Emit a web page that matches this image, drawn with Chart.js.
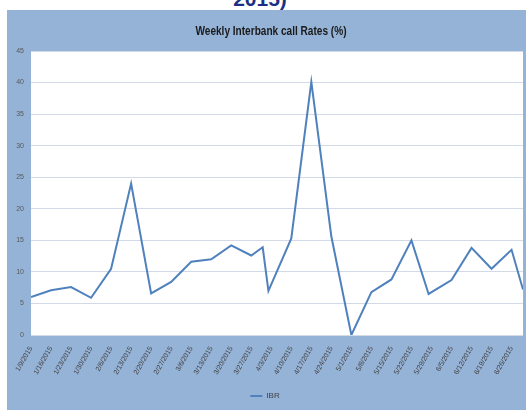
<!DOCTYPE html>
<html>
<head>
<meta charset="utf-8">
<script src="https://cdn.jsdelivr.net/npm/chart.js@4"></script>
<style>
  html, body { margin: 0; padding: 0; background: #ffffff; width: 526px; height: 410px; overflow: hidden; }
  #heading { position: absolute; left: 0; top: -12px; width: 526px; text-align: center; font: bold 21px "Liberation Sans", Arial, sans-serif; line-height: 21px; color: #1b2f86; }
  #frame { position: absolute; left: 7px; top: 10px; width: 519px; height: 400px; background: #95b3d7; }
  #c { position: absolute; left: 0; top: 0; }
  #title { position: absolute; left: 0; top: 24px; width: 526px; text-align: center; font: bold 12px "Liberation Sans", Arial, sans-serif; line-height: 14px; color: #1a1a1a; transform: translateX(8px) scaleX(0.84); transform-origin: 263px 0; white-space: nowrap; }
</style>
</head>
<body>
<div id="heading"><span style="position:relative;left:-3px">2015)</span></div>
<div id="frame"><canvas id="c" width="519" height="400"></canvas></div>
<div id="title"></div>
<script>
// ---- data ----
const dates = ['2015-01-09','2015-01-16','2015-01-23','2015-01-30','2015-02-06','2015-02-13','2015-02-20','2015-02-27',
  '2015-03-06','2015-03-13','2015-03-20','2015-03-27','2015-03-31','2015-04-02','2015-04-10','2015-04-17','2015-04-24',
  '2015-05-01','2015-05-08','2015-05-15','2015-05-22','2015-05-28','2015-06-05','2015-06-12','2015-06-19','2015-06-26','2015-06-30'];
const ibrValues = [6.0, 7.1, 7.6, 5.9, 10.5, 24.0, 6.6, 8.4, 11.6, 12.0, 14.2, 12.6, 13.9, 7.0, 15.3, 40.1, 15.6,
  0.0, 6.8, 8.8, 15.0, 6.5, 8.7, 13.8, 10.5, 13.5, 7.2];
const tickLabels = ['1/9/2015','1/16/2015','1/23/2015','1/30/2015','2/6/2015','2/13/2015','2/20/2015','2/27/2015',
  '3/6/2015','3/13/2015','3/20/2015','3/27/2015','4/3/2015','4/10/2015','4/17/2015','4/24/2015','5/1/2015',
  '5/8/2015','5/15/2015','5/22/2015','5/29/2015','6/5/2015','6/12/2015','6/19/2015','6/26/2015'];
const seriesName = 'IBR';
const chartTitle = 'Weekly Interbank call Rates (%)';

document.getElementById('title').textContent = chartTitle;

const startDay = Date.UTC(2015, 0, 9);
function dayOffset(s) {
  const p = s.split('-').map(Number);
  return Math.round((Date.UTC(p[0], p[1] - 1, p[2]) - startDay) / 86400000);
}
const points = dates.map((d, i) => ({ x: dayOffset(d), y: ibrValues[i] }));
const xMax = dayOffset('2015-06-30');

const plotBg = {
  id: 'plotBg',
  beforeDraw(chart) {
    const a = chart.chartArea, ctx = chart.ctx;
    ctx.save();
    ctx.fillStyle = '#ffffff';
    ctx.fillRect(a.left, a.top, a.right - a.left, a.bottom - a.top);
    ctx.restore();
  }
};

new Chart(document.getElementById('c'), {
  type: 'line',
  data: {
    datasets: [{
      label: seriesName,
      data: points,
      borderColor: '#4f81bd',
      backgroundColor: '#4f81bd',
      borderWidth: 2,
      pointRadius: 0,
      tension: 0,
      fill: false
    }]
  },
  options: {
    responsive: false,
    devicePixelRatio: 1,
    animation: false,
    layout: { padding: { left: 0, right: 3, top: 41, bottom: 0 } },
    plugins: {
      title: { display: false },
      legend: {
        display: true,
        position: 'bottom',
        labels: {
          usePointStyle: true,
          pointStyle: 'line',
          pointStyleWidth: 12,
          boxHeight: 8,
          color: '#404040',
          font: { family: '"Liberation Sans", Arial, sans-serif', size: 8 },
          padding: 1
        }
      },
      tooltip: { enabled: false }
    },
    scales: {
      x: {
        type: 'linear',
        min: 0,
        max: xMax,
        afterBuildTicks(scale) { scale.ticks = tickLabels.map((_, i) => ({ value: i * 7 })); },
        afterFit(scale) { scale.height = 56; },
        grid: { display: false },
        border: { display: false },
        ticks: {
          autoSkip: false,
          minRotation: 60,
          maxRotation: 60,
          padding: 2,
          color: '#404040',
          font: { family: '"Liberation Sans", Arial, sans-serif', size: 7 },
          callback(v, i) { return tickLabels[i]; }
        }
      },
      y: {
        min: 0,
        max: 45,
        afterFit(scale) { scale.width = 24; },
        grid: { color: '#d3d9e6', lineWidth: 1, drawTicks: false },
        border: { display: false },
        ticks: {
          stepSize: 5,
          padding: 7,
          color: '#595959',
          font: { family: '"Liberation Sans", Arial, sans-serif', size: 7 }
        }
      }
    }
  },
  plugins: [plotBg]
});
</script>
</body>
</html>
